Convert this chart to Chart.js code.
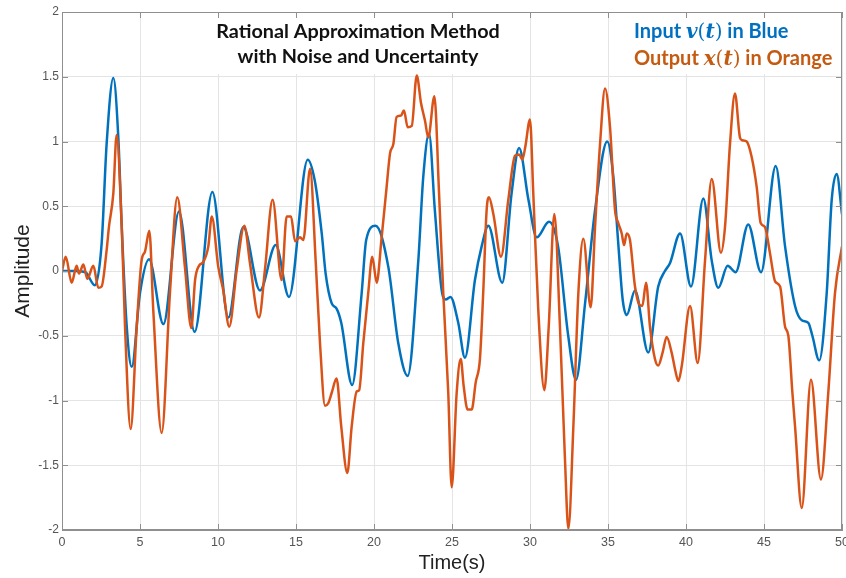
<!DOCTYPE html>
<html>
<head>
<meta charset="utf-8">
<script src="https://cdn.jsdelivr.net/npm/chart.js@4/dist/chart.umd.min.js"></script>
<style>
  html, body { margin: 0; padding: 0; background: #fff; }
  #wrap { width: 846px; height: 578px; }
</style>
</head>
<body>
<div id="wrap"><canvas id="chart" width="846" height="578"></canvas></div>
<script>
// input v(t) (blue)
const inputT = [0, 0.8, 1.5, 2.1, 2.54, 2.86, 3.29, 3.61, 3.83, 4.15, 4.47, 5.0, 5.58, 6.5, 7.5, 8.5,
  9.64, 10.66, 11.62, 12.69, 13.7, 14.55, 15.75, 16.2, 16.65, 16.9, 17.29, 17.6, 17.9, 18.6, 19.21, 19.5,
  20.1, 20.92, 21.56, 22.16, 22.84, 23.16, 23.53, 23.9, 24.34, 24.6, 24.9, 25.4, 25.83, 26.47, 26.9, 27.33,
  28.22, 28.82, 29.3, 29.9, 30.43, 31.22, 31.8, 32.45, 32.95, 33.53, 34.17, 34.95, 35.34, 35.66, 35.94, 36.2,
  36.73, 37.58, 38.22, 38.65, 38.97, 39.62, 40.32, 41.11, 41.65, 42.07, 42.67, 43.18, 43.99, 44.81, 45.75,
  46.35, 46.99, 47.42, 47.84, 48.1, 48.54, 49.02, 49.34, 49.66, 50];
const inputV = [0, 0, -0.01, -0.11, 0.21, 0.98, 1.49, 1.03, 0.34, -0.43, -0.74, -0.17, 0.09, -0.41, 0.46, -0.47,
  0.61, -0.36, 0.34, -0.15, 0.2, -0.2, 0.86, 0.7, 0.29, -0.02, -0.25, -0.29, -0.4, -0.88, -0.17, 0.24,
  0.35, 0.03, -0.56, -0.81, 0.08, 0.73, 1.06, 0.47, -0.15, -0.22, -0.2, -0.4, -0.67, -0.07, 0.19, 0.35,
  -0.09, 0.6, 0.95, 0.55, 0.26, 0.38, 0.19, -0.5, -0.84, -0.25, 0.47, 1.0, 0.73, 0.21, -0.22, -0.34,
  -0.15, -0.63, -0.12, 0, 0.06, 0.29, -0.12, 0.56, 0.08, -0.13, 0.04, -0.01, 0.36, -0.01, 0.81,
  0.19, -0.27, -0.38, -0.4, -0.5, -0.69, -0.17, 0.55, 0.75, 0.44];

// output x(t) (orange)
const outputT = [0, 0.24, 0.62, 0.94, 1.09, 1.37, 1.62, 2.01, 2.33, 2.54, 2.86, 3.01, 3.29, 3.5, 3.83, 4.04,
  4.4, 4.79, 5.1, 5.32, 5.6, 5.85, 6.39, 6.92, 7.39, 7.88, 8.29, 8.53, 8.78, 9.06, 9.38, 9.6, 10.02, 10.34,
  10.72, 11.2, 11.69, 12.05, 12.63, 13.01, 13.5, 14.08, 14.4, 14.68, 14.94, 15.26, 15.47, 15.9, 16.26, 16.54,
  16.86, 17.07, 17.29, 17.6, 17.9, 18.29, 18.57, 18.89, 19.05, 19.31, 19.63, 19.89, 20.17, 20.49, 20.81, 21.03,
  21.24, 21.45, 21.73, 21.92, 22.16, 22.42, 22.74, 23.01, 23.27, 23.48, 23.87, 24.17, 24.44, 24.76, 24.98,
  25.3, 25.56, 25.75, 26.0, 26.26, 26.52, 26.79, 27.0, 27.22, 27.37, 27.65, 28.14, 28.61, 29.04, 29.3, 29.51,
  29.7, 30.0, 30.21, 30.53, 30.92, 31.2, 31.56, 31.92, 32.24, 32.46, 32.78, 33.1, 33.42, 33.89, 34.17, 34.49,
  34.81, 35.13, 35.45, 35.66, 35.88, 36.03, 36.2, 36.41, 36.73, 37.01, 37.2, 37.44, 37.69, 38.01, 38.22, 38.5,
  38.76, 39.08, 39.3, 39.51, 39.72, 40.26, 40.75, 41.22, 41.65, 42.24, 42.5, 42.82, 43.14, 43.46, 43.6, 43.89,
  44.21, 44.53, 44.79, 45.06, 45.38, 45.71, 46.03, 46.35, 46.56, 46.82, 46.99, 47.42, 48.01, 48.65, 49.12,
  49.55, 50];
const outputV = [0, 0.11, -0.09, 0.04, -0.02, 0.05, -0.06, 0.04, -0.13, -0.12, 0.16, 0.34, 0.6, 1.05, 0.34, -0.43,
  -1.22, -0.43, 0.08, 0.15, 0.31, -0.3, -1.25, -0.17, 0.57, 0.03, -0.44, -0.07, 0.04, 0.07, 0.19, 0.42, 0.03, -0.15,
  -0.43, 0.01, 0.35, 0.06, -0.36, 0.01, 0.55, -0.07, 0.42, 0.42, 0.23, 0.26, 0.24, 0.79, 0.08, -0.56,
  -1.04, -1.02, -0.94, -0.83, -1.2, -1.56, -1.2, -0.93, -0.92, -0.56, -0.17, 0.11, -0.09, 0.26, 0.65, 0.91,
  0.98, 1.19, 1.2, 1.24, 1.11, 1.12, 1.51, 1.3, 1.16, 1.03, 1.35, 0.6, -0.17, -0.94, -1.67,
  -0.94, -0.68, -0.89, -1.07, -1.07, -0.86, -0.68, -0.17, 0.47, 0.57, 0.44, 0.11, 0.55, 0.89, 0.9, 0.86,
  0.96, 1.17, 0.6, -0.3, -0.92, -0.43, 0.44, -0.43, -1.45, -1.99, -1.2, -0.17, 0.25, -0.28, 0.34, 0.98,
  1.41, 1.11, 0.47, 0.37, 0.29, 0.2, 0.29, 0.24, -0.12, -0.26, -0.27, -0.09, -0.43, -0.68, -0.73, -0.63,
  -0.51, -0.63, -0.76, -0.85, -0.74, -0.27, -0.71, 0.08, 0.71, 0.14, 0.34, 0.98, 1.37, 1.03, 1.01, 1.0,
  0.88, 0.65, 0.37, 0.34, 0.14, -0.08, -0.12, -0.43, -0.5, -0.94, -1.2, -1.83, -0.84, -1.61, -0.94,
  -0.17, 0.19];

const xTicks = [0, 5, 10, 15, 20, 25, 30, 35, 40, 45, 50];
const yTicks = [-2, -1.5, -1, -0.5, 0, 0.5, 1, 1.5, 2];

const titleLines = ["Rational Approximation Method", "with Noise and Uncertainty"];

const toPoints = (ts, vs) => ts.map((t, i) => ({x: t, y: vs[i]}));

const AXIS_GRAY = "#8f8f8f";

// draws one line of mixed-font text, left to right
function drawRich(ctx, x, y, parts, color) {
    ctx.fillStyle = color;
    ctx.textAlign = "left";
    ctx.textBaseline = "alphabetic";
    parts.forEach(p => {
        ctx.font = p[1];
        ctx.fillText(p[0], x, y);
        x += ctx.measureText(p[0]).width;
    });
}

const annotations = {
    id: "annotations",
    beforeDatasetsDraw(chart) {
        const ctx = chart.ctx;
        ctx.save();
        // white boxes behind title and legend text (they hide the grid)
        ctx.fillStyle = "#fff";
        ctx.fillRect(202, 13, 324, 61);
        ctx.fillRect(612, 13, 229, 61);

        ctx.fillStyle = "#111";
        ctx.textAlign = "center";
        ctx.textBaseline = "alphabetic";
        ctx.font = "bold 19.8px Lato";
        ctx.fillText(titleLines[0], 358, 38);
        ctx.fillText(titleLines[1], 358, 63);

        const sans = "bold 20px Lato";
        const it = "italic bold 20px 'DejaVu Serif'";
        const up = "20px 'DejaVu Serif'";
        drawRich(ctx, 634, 38, [["Input ", sans], ["v", it], ["(", up], ["t", it], [")", up], [" in Blue", sans]], "#0070c0");
        drawRich(ctx, 634, 65, [["Output ", sans], ["x", it], ["(", up], ["t", it], [")", up], [" in Orange", sans]], "#c55a11");
        ctx.restore();
    },
    afterDraw(chart) {
        // box round the plot with inward ticks on all four sides
        const {ctx, chartArea: a, scales: {x, y}} = chart;
        ctx.save();
        ctx.strokeStyle = AXIS_GRAY;
        ctx.lineWidth = 1;
        ctx.strokeRect(a.left + 0.5, a.top + 0.5, a.right - a.left - 1, a.bottom - a.top - 1);
        ctx.beginPath();
        xTicks.forEach(t => {
            const px = Math.round(x.getPixelForValue(t)) + 0.5;
            ctx.moveTo(px, a.bottom); ctx.lineTo(px, a.bottom - 6);
            ctx.moveTo(px, a.top); ctx.lineTo(px, a.top + 6);
        });
        yTicks.forEach(v => {
            const py = Math.round(y.getPixelForValue(v)) + 0.5;
            ctx.moveTo(a.left, py); ctx.lineTo(a.left + 6, py);
            ctx.moveTo(a.right, py); ctx.lineTo(a.right - 6, py);
        });
        ctx.stroke();
        ctx.restore();
    }
};

new Chart(document.getElementById("chart"), {
    type: "line",
    data: {
        datasets: [
            {
                label: "Input v(t)",
                data: toPoints(inputT, inputV),
                borderColor: "#0072bd",
                borderWidth: 2.5,
                pointRadius: 0,
                cubicInterpolationMode: "monotone",
                order: 2
            },
            {
                label: "Output x(t)",
                data: toPoints(outputT, outputV),
                borderColor: "#d95319",
                borderWidth: 2.5,
                pointRadius: 0,
                cubicInterpolationMode: "monotone",
                order: 1
            }
        ]
    },
    options: {
        responsive: false,
        animation: false,
        devicePixelRatio: 1,
        layout: { padding: { top: 12, right: 4, left: 0, bottom: 0 } },
        plugins: {
            legend: { display: false },
            tooltip: { enabled: false }
        },
        scales: {
            x: {
                type: "linear",
                min: 0,
                max: 50,
                afterBuildTicks: s => { s.ticks = xTicks.map(v => ({value: v})); },
                afterFit: s => { s.height = 48; s.paddingLeft = 0; s.paddingRight = 0; },
                grid: { color: "#e4e4e4", drawTicks: false },
                border: { color: AXIS_GRAY },
                ticks: {
                    padding: 5,
                    color: "#555",
                    font: { family: "'Liberation Sans', Arial", size: 12.5 },
                    maxRotation: 0
                },
                title: {
                    display: true,
                    text: "Time(s)",
                    color: "#222",
                    font: { family: "'Liberation Sans', Arial", size: 20 },
                    padding: { top: 0, bottom: 3 }
                }
            },
            y: {
                min: -2,
                max: 2,
                afterBuildTicks: s => { s.ticks = yTicks.map(v => ({value: v})); },
                afterFit: s => { s.width = 62; s.paddingTop = 0; s.paddingBottom = 0; },
                grid: { color: "#e4e4e4", drawTicks: false },
                border: { color: AXIS_GRAY },
                ticks: {
                    padding: 3,
                    color: "#555",
                    font: { family: "'Liberation Sans', Arial", size: 12 },
                    callback: v => String(v)
                },
                title: {
                    display: true,
                    text: "Amplitude",
                    color: "#222",
                    font: { family: "'Liberation Sans', Arial", size: 21 },
                    padding: { top: 11, bottom: 0 }
                }
            }
        }
    },
    plugins: [annotations]
});
</script>
</body>
</html>
